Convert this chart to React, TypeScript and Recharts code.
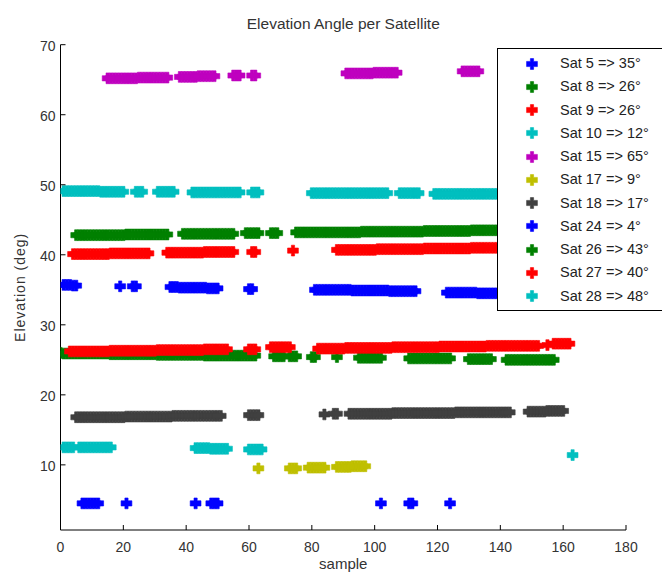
import { Legend, Scatter, ScatterChart, XAxis, YAxis } from 'recharts';

type Pt = [number, number];

// [sample, elevation in deg]
const sat5: Pt[] = [
  [1, 35.7], [2, 35.7], [3, 35.7], [4, 35.6], [5, 35.6], [19, 35.5], [23, 35.5], [24, 35.5],
  [35, 35.4], [36, 35.4], [37, 35.4], [38, 35.3], [39, 35.3], [40, 35.3], [41, 35.3], [42, 35.3],
  [43, 35.3], [44, 35.3], [45, 35.3], [46, 35.3], [47, 35.2], [48, 35.2], [49, 35.2], [50, 35.2],
  [60, 35.1], [61, 35.1],
  [81, 35.0], [82, 35.0], [83, 35.0], [84, 35.0], [85, 35.0], [86, 35.0], [87, 35.0], [88, 35.0],
  [89, 35.0], [90, 35.0], [91, 35.0], [92, 35.0], [93, 34.9], [94, 34.9], [95, 34.9], [96, 34.9],
  [97, 34.9], [98, 34.9], [99, 34.9], [100, 34.9], [101, 34.9], [102, 34.9], [103, 34.9], [104, 34.9],
  [105, 34.8], [106, 34.8], [107, 34.8], [108, 34.8], [109, 34.8], [110, 34.8], [111, 34.8], [112, 34.8],
  [113, 34.8],
  [123, 34.6], [124, 34.6], [125, 34.6], [126, 34.6], [127, 34.6], [128, 34.6], [129, 34.6], [130, 34.6],
  [131, 34.6], [132, 34.6], [133, 34.5], [134, 34.5], [135, 34.5], [136, 34.5], [137, 34.5], [138, 34.5],
  [139, 34.5], [140, 34.5], [141, 34.5], [142, 34.5], [143, 34.5], [144, 34.5], [145, 34.5],
];

const sat8: Pt[] = [
  [0, 26.0],
  [1, 25.9], [2, 25.9], [3, 25.9], [4, 25.9], [5, 25.9], [6, 25.9], [7, 25.9], [8, 25.9],
  [9, 25.9], [10, 25.9], [11, 25.9], [12, 25.9], [13, 25.9], [14, 25.9], [15, 25.9],
  [16, 25.8], [17, 25.8], [18, 25.8], [19, 25.8], [20, 25.8], [21, 25.8], [22, 25.8], [23, 25.8],
  [24, 25.8], [25, 25.8], [26, 25.8], [27, 25.8], [28, 25.8], [29, 25.8], [30, 25.8],
  [31, 25.7], [32, 25.7], [33, 25.7], [34, 25.7], [35, 25.7], [36, 25.7], [37, 25.7], [38, 25.7],
  [39, 25.7], [40, 25.7], [41, 25.7], [42, 25.7], [43, 25.7], [44, 25.7], [45, 25.7],
  [46, 25.6], [47, 25.6], [48, 25.6], [49, 25.6], [50, 25.6], [51, 25.6], [52, 25.6], [53, 25.6],
  [54, 25.6], [55, 25.6], [56, 25.6], [57, 25.6], [58, 25.6], [59, 25.6], [60, 25.6], [61, 25.6],
  [62, 25.6],
  [68, 25.5], [69, 25.5], [70, 25.5], [71, 25.5], [73, 25.5], [74, 25.5], [75, 25.5],
  [80, 25.4], [81, 25.4], [88, 25.4],
  [95, 25.3], [96, 25.3], [97, 25.3], [98, 25.3], [99, 25.3], [100, 25.3], [101, 25.3], [102, 25.3],
  [111, 25.2], [112, 25.2], [113, 25.2], [114, 25.2], [115, 25.2], [116, 25.2], [117, 25.2],
  [118, 25.2], [119, 25.2], [120, 25.2], [121, 25.2], [122, 25.2], [123, 25.2], [124, 25.2],
  [130, 25.1], [131, 25.1], [132, 25.1], [133, 25.1], [134, 25.1], [135, 25.1], [136, 25.1], [137, 25.1],
  [142, 25.0], [143, 25.0], [144, 25.0], [145, 25.0], [146, 25.0], [147, 25.0], [148, 25.0], [149, 25.0],
  [150, 25.0], [151, 25.0], [152, 25.0], [153, 25.0], [154, 25.0], [155, 25.0], [156, 25.0], [157, 25.0],
];

const sat9: Pt[] = [
  [3, 26.2], [4, 26.2], [5, 26.2], [6, 26.2], [7, 26.2], [8, 26.2], [9, 26.2], [10, 26.2],
  [11, 26.2], [12, 26.2], [13, 26.2], [14, 26.2], [15, 26.2],
  [16, 26.3], [17, 26.3], [18, 26.3], [19, 26.3], [20, 26.3], [21, 26.3], [22, 26.3], [23, 26.3],
  [24, 26.3], [25, 26.3], [26, 26.3], [27, 26.3], [28, 26.3], [29, 26.3], [30, 26.3],
  [31, 26.4], [32, 26.4], [33, 26.4], [34, 26.4], [35, 26.4], [36, 26.4], [37, 26.4], [38, 26.4],
  [39, 26.4], [40, 26.4], [41, 26.4], [42, 26.4], [43, 26.4], [44, 26.4], [45, 26.4],
  [46, 26.5], [47, 26.5], [48, 26.5], [49, 26.5], [50, 26.5], [51, 26.5], [52, 26.5], [53, 26.5],
  [60, 26.5], [61, 26.5], [62, 26.5],
  [67, 26.8], [68, 26.8], [69, 26.8], [70, 26.8], [71, 26.8], [72, 26.8], [73, 26.8],
  [82, 26.6], [83, 26.6], [84, 26.6], [85, 26.6], [86, 26.6], [87, 26.6], [88, 26.6], [89, 26.6],
  [90, 26.6], [91, 26.7], [92, 26.7], [93, 26.7], [94, 26.7], [95, 26.7], [96, 26.7], [97, 26.7],
  [98, 26.7], [99, 26.7], [100, 26.7], [101, 26.7], [102, 26.7], [103, 26.7], [104, 26.7], [105, 26.7],
  [106, 26.8], [107, 26.8], [108, 26.8], [109, 26.8], [110, 26.8], [111, 26.8], [112, 26.8], [113, 26.8],
  [114, 26.8], [115, 26.8], [116, 26.8], [117, 26.8], [118, 26.8], [119, 26.8], [120, 26.8],
  [121, 26.9], [122, 26.9], [123, 26.9], [124, 26.9], [125, 26.9], [126, 26.9], [127, 26.9], [128, 26.9],
  [129, 26.9], [130, 26.9], [131, 26.9], [132, 26.9], [133, 26.9], [134, 26.9], [135, 26.9],
  [136, 27.0], [137, 27.0], [138, 27.0], [139, 27.0], [140, 27.0], [141, 27.0], [142, 27.0], [143, 27.0],
  [144, 27.0], [145, 27.0], [146, 27.0], [147, 27.0], [148, 27.0], [149, 27.0], [150, 27.0], [151, 27.0],
  [152, 27.0], [155, 27.1],
  [157, 27.3], [158, 27.3], [159, 27.3], [160, 27.3], [161, 27.3], [162, 27.3],
];

const sat10: Pt[] = [
  [1, 12.5], [2, 12.5], [3, 12.5], [4, 12.5],
  [6, 12.5], [7, 12.5], [8, 12.5], [9, 12.5], [10, 12.5], [11, 12.5], [12, 12.5], [13, 12.5],
  [14, 12.5], [15, 12.5], [16, 12.5],
  [43, 12.4], [44, 12.4], [45, 12.4], [46, 12.4], [47, 12.4], [48, 12.3], [49, 12.3], [50, 12.3],
  [51, 12.3], [52, 12.3], [53, 12.3],
  [60, 12.2], [61, 12.2], [62, 12.2], [63, 12.2], [64, 12.2],
  [163, 11.4],
];

const sat15: Pt[] = [
  [15, 65.2], [16, 65.2], [17, 65.2], [18, 65.2], [19, 65.2], [20, 65.2], [21, 65.2], [22, 65.2],
  [23, 65.2], [24, 65.2], [25, 65.3], [26, 65.3], [27, 65.3], [28, 65.3], [29, 65.3], [30, 65.3],
  [31, 65.3], [32, 65.3], [33, 65.3], [34, 65.3],
  [38, 65.4], [39, 65.4], [40, 65.4], [41, 65.4], [42, 65.4], [43, 65.4], [44, 65.5], [45, 65.5],
  [46, 65.5], [47, 65.5], [48, 65.5], [49, 65.5],
  [55, 65.6], [56, 65.6], [57, 65.6], [61, 65.6], [62, 65.6],
  [91, 65.9], [92, 65.9], [93, 65.9], [94, 65.9], [95, 65.9], [96, 65.9], [97, 65.9], [98, 65.9],
  [99, 65.9], [100, 66.0], [101, 66.0], [102, 66.0], [103, 66.0], [104, 66.0], [105, 66.0], [106, 66.0],
  [107, 66.0],
  [128, 66.2], [129, 66.2], [130, 66.2], [131, 66.2], [132, 66.2], [133, 66.2],
];

const sat17: Pt[] = [
  [63, 9.5], [73, 9.5], [74, 9.5], [75, 9.5],
  [79, 9.6], [80, 9.6], [81, 9.6], [82, 9.6], [83, 9.6], [84, 9.6],
  [88, 9.7], [89, 9.7], [90, 9.7], [91, 9.7], [92, 9.7], [93, 9.8], [94, 9.8], [95, 9.8],
  [96, 9.8], [97, 9.8],
];

const sat18: Pt[] = [
  [5, 16.8], [6, 16.8], [7, 16.8], [8, 16.8], [9, 16.8], [10, 16.8], [11, 16.8], [12, 16.8],
  [13, 16.8], [14, 16.8], [15, 16.8], [16, 16.8], [17, 16.8], [18, 16.8], [19, 16.8], [20, 16.8],
  [21, 16.9], [22, 16.9], [23, 16.9], [24, 16.9], [25, 16.9], [26, 16.9], [27, 16.9], [28, 16.9],
  [29, 16.9], [30, 16.9], [31, 16.9], [32, 16.9], [33, 16.9], [34, 16.9], [35, 16.9],
  [36, 17.0], [37, 17.0], [38, 17.0], [39, 17.0], [40, 17.0], [41, 17.0], [42, 17.0], [43, 17.0],
  [44, 17.0], [45, 17.0], [46, 17.0], [47, 17.0], [48, 17.0], [49, 17.0], [50, 17.0], [51, 17.0],
  [60, 17.1], [61, 17.1], [62, 17.1], [63, 17.1],
  [84, 17.2], [87, 17.3], [88, 17.3],
  [92, 17.3], [93, 17.3], [94, 17.3], [95, 17.3], [96, 17.3], [97, 17.3], [98, 17.3], [99, 17.3],
  [100, 17.3], [101, 17.3], [102, 17.3], [103, 17.3], [104, 17.3], [105, 17.3],
  [106, 17.4], [107, 17.4], [108, 17.4], [109, 17.4], [110, 17.4], [111, 17.4], [112, 17.4], [113, 17.4],
  [114, 17.4], [115, 17.4], [116, 17.4], [117, 17.4], [118, 17.4], [119, 17.4], [120, 17.4], [121, 17.4],
  [122, 17.4], [123, 17.4], [124, 17.4], [125, 17.4],
  [126, 17.5], [127, 17.5], [128, 17.5], [129, 17.5], [130, 17.5], [131, 17.5], [132, 17.5], [133, 17.5],
  [134, 17.5], [135, 17.5], [136, 17.5], [137, 17.5], [138, 17.5], [139, 17.5], [140, 17.5], [141, 17.5],
  [142, 17.5], [143, 17.5],
  [149, 17.6], [150, 17.6], [151, 17.6], [152, 17.6], [153, 17.6], [154, 17.6],
  [155, 17.7], [156, 17.7], [157, 17.7], [158, 17.7], [159, 17.7], [160, 17.7],
];

const sat24: Pt[] = [
  [7, 4.5], [8, 4.5], [9, 4.5], [10, 4.5], [11, 4.5], [12, 4.5], [21, 4.5], [43, 4.5],
  [48, 4.5], [49, 4.5], [50, 4.5], [102, 4.5], [111, 4.5], [112, 4.5], [124, 4.5],
];

const sat26: Pt[] = [
  [5, 42.8], [6, 42.8], [7, 42.8], [8, 42.8], [9, 42.8], [10, 42.8], [11, 42.8], [12, 42.8],
  [13, 42.8], [14, 42.8], [15, 42.8], [16, 42.8], [17, 42.8], [18, 42.8], [19, 42.8], [20, 42.8],
  [21, 42.9], [22, 42.9], [23, 42.9], [24, 42.9], [25, 42.9], [26, 42.9], [27, 42.9], [28, 42.9],
  [29, 42.9], [30, 42.9], [31, 42.9], [32, 42.9], [33, 42.9], [34, 42.9],
  [39, 43.0], [40, 43.0], [41, 43.0], [42, 43.0], [43, 43.0], [44, 43.0], [45, 43.0], [46, 43.0],
  [47, 43.0], [48, 43.0], [49, 43.0], [50, 43.0], [51, 43.0], [52, 43.0], [53, 43.0], [54, 43.0],
  [55, 43.0],
  [59, 43.1], [60, 43.1], [61, 43.1], [62, 43.1], [63, 43.1], [67, 43.1], [68, 43.1], [69, 43.1],
  [75, 43.2], [76, 43.2], [77, 43.2], [78, 43.2], [79, 43.2], [80, 43.2], [81, 43.2], [82, 43.2],
  [83, 43.2], [84, 43.2], [85, 43.2], [86, 43.2], [87, 43.2], [88, 43.2], [89, 43.2], [90, 43.2],
  [91, 43.2], [92, 43.2], [93, 43.2], [94, 43.2], [95, 43.2],
  [96, 43.3], [97, 43.3], [98, 43.3], [99, 43.3], [100, 43.3], [101, 43.3], [102, 43.3], [103, 43.3],
  [104, 43.3], [105, 43.3], [106, 43.3], [107, 43.3], [108, 43.3], [109, 43.3], [110, 43.3], [111, 43.3],
  [112, 43.3], [113, 43.3], [114, 43.3], [115, 43.3],
  [116, 43.4], [117, 43.4], [118, 43.4], [119, 43.4], [120, 43.4], [121, 43.4], [122, 43.4], [123, 43.4],
  [124, 43.4], [125, 43.4], [126, 43.4], [127, 43.4], [128, 43.4], [129, 43.4], [130, 43.4],
  [131, 43.5], [132, 43.5], [133, 43.5], [134, 43.5], [135, 43.5], [136, 43.5], [137, 43.5], [138, 43.5],
  [139, 43.5], [140, 43.5], [141, 43.5], [142, 43.5], [143, 43.5], [144, 43.5], [145, 43.5],
];

const sat27: Pt[] = [
  [4, 40.1], [5, 40.1], [6, 40.1], [7, 40.1], [8, 40.1], [9, 40.1], [10, 40.1], [11, 40.1],
  [12, 40.1], [13, 40.1], [14, 40.1], [15, 40.1],
  [16, 40.2], [17, 40.2], [18, 40.2], [19, 40.2], [20, 40.2], [21, 40.2], [22, 40.2], [23, 40.2],
  [24, 40.2], [25, 40.2], [26, 40.2], [27, 40.2], [28, 40.2],
  [34, 40.3], [35, 40.3], [36, 40.3], [37, 40.3], [38, 40.3], [39, 40.3], [40, 40.3], [41, 40.3],
  [42, 40.3], [43, 40.3], [44, 40.3], [45, 40.3],
  [46, 40.4], [47, 40.4], [48, 40.4], [49, 40.4], [50, 40.4], [51, 40.4], [52, 40.4], [53, 40.4],
  [54, 40.4], [55, 40.4], [61, 40.4], [62, 40.4],
  [74, 40.6],
  [88, 40.7], [89, 40.7], [90, 40.7], [91, 40.7], [92, 40.7], [93, 40.7], [94, 40.7], [95, 40.7],
  [96, 40.7], [97, 40.7], [98, 40.7], [99, 40.7], [100, 40.7],
  [101, 40.8], [102, 40.8], [103, 40.8], [104, 40.8], [105, 40.8], [106, 40.8], [107, 40.8], [108, 40.8],
  [109, 40.8], [110, 40.8], [111, 40.8], [112, 40.8], [113, 40.8], [114, 40.8], [115, 40.8],
  [116, 40.9], [117, 40.9], [118, 40.9], [119, 40.9], [120, 40.9], [121, 40.9], [122, 40.9], [123, 40.9],
  [124, 40.9], [125, 40.9], [126, 40.9], [127, 40.9], [128, 40.9], [129, 40.9], [130, 40.9],
  [131, 41.0], [132, 41.0], [133, 41.0], [134, 41.0], [135, 41.0], [136, 41.0], [137, 41.0], [138, 41.0],
  [139, 41.0], [140, 41.0], [141, 41.0], [142, 41.0], [143, 41.0], [144, 41.0], [145, 41.0],
];

const sat28: Pt[] = [
  [1, 49.1], [2, 49.1], [3, 49.1], [4, 49.1], [5, 49.1], [6, 49.1], [7, 49.1], [8, 49.1],
  [9, 49.1], [10, 49.1], [11, 49.1], [12, 49.1], [13, 49.0], [14, 49.0], [15, 49.0], [16, 49.0],
  [17, 49.0], [18, 49.0], [19, 49.0], [20, 49.0], [24, 49.0], [25, 49.0], [26, 49.0],
  [31, 49.0], [32, 49.0], [33, 49.0], [34, 49.0], [35, 49.0], [36, 49.0],
  [42, 48.9], [43, 48.9], [44, 48.9], [45, 48.9], [46, 48.9], [47, 48.9], [48, 48.9], [49, 48.9],
  [50, 48.9], [51, 48.9], [52, 48.9], [53, 48.9], [54, 48.9], [55, 48.9], [56, 48.9], [57, 48.9],
  [61, 48.9], [62, 48.9], [63, 48.9],
  [80, 48.8], [81, 48.8], [82, 48.8], [83, 48.8], [84, 48.8], [85, 48.8], [86, 48.8], [87, 48.8],
  [88, 48.8], [89, 48.8], [90, 48.8], [91, 48.8], [92, 48.8], [93, 48.8], [94, 48.8], [95, 48.8],
  [96, 48.8], [97, 48.8], [98, 48.8], [99, 48.8], [100, 48.8], [101, 48.8], [102, 48.8], [103, 48.8],
  [104, 48.8], [108, 48.8], [109, 48.8], [110, 48.8], [111, 48.8], [112, 48.8], [113, 48.8], [114, 48.8],
  [119, 48.7], [120, 48.7], [121, 48.7], [122, 48.7], [123, 48.7], [124, 48.7], [125, 48.7], [126, 48.7],
  [127, 48.7], [128, 48.7], [129, 48.7], [130, 48.7], [131, 48.7], [132, 48.7], [133, 48.7], [134, 48.7],
  [135, 48.7], [136, 48.7], [137, 48.7], [138, 48.7], [139, 48.7], [140, 48.7], [141, 48.7], [142, 48.7],
  [143, 48.7], [144, 48.7], [145, 48.7],
];

const satNames = [
  'Sat 5 => 35°', 'Sat 8 => 26°', 'Sat 9 => 26°', 'Sat 10 => 12°', 'Sat 15 => 65°', 'Sat 17 => 9°',
  'Sat 18 => 17°', 'Sat 24 => 4°', 'Sat 26 => 43°', 'Sat 27 => 40°', 'Sat 28 => 48°',
];
const satPoints = [sat5, sat8, sat9, sat10, sat15, sat17, sat18, sat24, sat26, sat27, sat28];
const satColors = [
  '#0000ff', '#008000', '#ff0000', '#00bfbf', '#bf00bf', '#bfbf00',
  '#404040', '#0000ff', '#008000', '#ff0000', '#00bfbf',
];

const xTicks = [0, 20, 40, 60, 80, 100, 120, 140, 160, 180];
const yTicks = [10, 20, 30, 40, 50, 60, 70];

const font = "'Liberation Sans', Arial, Helvetica, sans-serif";
const textColor = '#333';

// thick plus-like marker (matlab '+' with a heavy line width)
const markerPath = (cx: number, cy: number) => {
  const o = 5.4;
  const w = 1.6;
  const h = 2.6;
  return `M${cx - w},${cy - o} L${cx + w},${cy - o} L${cx + w},${cy - h} L${cx + o},${cy - h} L${cx + o},${cy + h} L${cx + w},${cy + h} L${cx + w},${cy + o} L${cx - w},${cy + o} L${cx - w},${cy + h} L${cx - o},${cy + h} L${cx - o},${cy - h} L${cx - w},${cy - h} Z`;
};

const Marker = (props: any) => {
  const { cx, cy, fill } = props;
  if (cx == null || cy == null) return null;
  return <path d={markerPath(cx, cy)} fill={fill} stroke={fill} strokeWidth={0.6} strokeLinejoin="round" />;
};

const BottomTick = ({ x, y, payload }: any) => (
  <g>
    <line x1={x} x2={x} y1={y} y2={y - 5} stroke="#000" />
    <text x={x} y={y + 22} textAnchor="middle" fontSize={14} fill={textColor} fontFamily={font}>
      {payload.value}
    </text>
  </g>
);

const TopTick = ({ x, y }: any) => <line x1={x} x2={x} y1={y} y2={y + 5} stroke="#000" />;

const LeftTick = ({ x, y, payload }: any) => (
  <g>
    <line x1={x} x2={x + 5} y1={y} y2={y} stroke="#000" />
    <text x={x - 5} y={y + 6} textAnchor="end" fontSize={14} fill={textColor} fontFamily={font}>
      {payload.value}
    </text>
  </g>
);

const RightTick = ({ x, y }: any) => <line x1={x} x2={x - 5} y1={y} y2={y} stroke="#000" />;

const LegendBox = () => (
  <div
    style={{
      width: 166,
      height: 263,
      boxSizing: 'border-box',
      border: '1px solid #000',
      background: '#fff',
      paddingTop: 3,
      fontFamily: font,
      fontSize: 14.5,
      color: '#222',
    }}
  >
    {satNames.map((name, i) => (
      <div key={name} style={{ position: 'relative', height: 23.27 }}>
        <svg width={14} height={14} style={{ position: 'absolute', left: 26.7, top: 4.6 }}>
          <path d={markerPath(7, 7)} fill={satColors[i]} stroke={satColors[i]} strokeWidth={0.6} strokeLinejoin="round" />
        </svg>
        <span style={{ position: 'absolute', left: 62, top: 0, lineHeight: '23.27px', whiteSpace: 'nowrap' }}>
          {name}
        </span>
      </div>
    ))}
  </div>
);

export default function App() {
  return (
    <div style={{ position: 'absolute', left: 0, top: 0, width: 662, height: 572, overflow: 'hidden', background: '#fff' }}>
      <div
        style={{
          position: 'absolute',
          left: 0,
          top: 16,
          width: 686.5,
          textAlign: 'center',
          fontFamily: font,
          fontSize: 15.5,
          lineHeight: 1,
          color: textColor,
        }}
      >
        Elevation Angle per Satellite
      </div>
      <ScatterChart width={662} height={572} margin={{ top: 44.7, right: 36, bottom: 0, left: 0 }}>
        <XAxis
          dataKey="sample"
          type="number"
          domain={[0, 180]}
          ticks={xTicks}
          interval={0}
          height={42}
          tickSize={0}
          tickMargin={0}
          tick={BottomTick}
          axisLine={{ stroke: '#000' }}
          allowDataOverflow
          label={{
            value: 'sample',
            position: 'insideBottom',
            offset: 3,
            style: { fontSize: 15, fill: textColor, fontFamily: font },
          }}
        />
        <XAxis
          xAxisId="top"
          orientation="top"
          type="number"
          domain={[0, 180]}
          ticks={xTicks}
          interval={0}
          height={0}
          tickSize={0}
          tickMargin={0}
          tick={TopTick}
          axisLine={{ stroke: '#000' }}
          allowDataOverflow
        />
        <YAxis
          dataKey="elev"
          type="number"
          domain={[0.7, 70]}
          ticks={yTicks}
          interval={0}
          width={60.5}
          tickSize={0}
          tickMargin={0}
          tick={LeftTick}
          axisLine={{ stroke: '#000' }}
          allowDataOverflow
          label={{
            value: 'Elevation (deg)',
            angle: -90,
            position: 'insideLeft',
            offset: 20,
            style: { textAnchor: 'middle', fontSize: 14, letterSpacing: 1, fill: textColor, fontFamily: font },
          }}
        />
        <YAxis
          yAxisId="right"
          orientation="right"
          type="number"
          domain={[0.7, 70]}
          ticks={yTicks}
          interval={0}
          width={0}
          tickSize={0}
          tickMargin={0}
          tick={RightTick}
          axisLine={{ stroke: '#000' }}
          allowDataOverflow
        />
        {satPoints.map((pts, i) => (
          <Scatter
            key={satNames[i]}
            name={satNames[i]}
            data={pts.map(([sample, elev]) => ({ sample, elev }))}
            fill={satColors[i]}
            shape={Marker}
            isAnimationActive={false}
          />
        ))}
        <Legend
          layout="vertical"
          align="center"
          verticalAlign="middle"
          content={() => <LegendBox />}
          wrapperStyle={{ left: 497, top: 48, width: 166, height: 263 }}
        />
      </ScatterChart>
    </div>
  );
}
